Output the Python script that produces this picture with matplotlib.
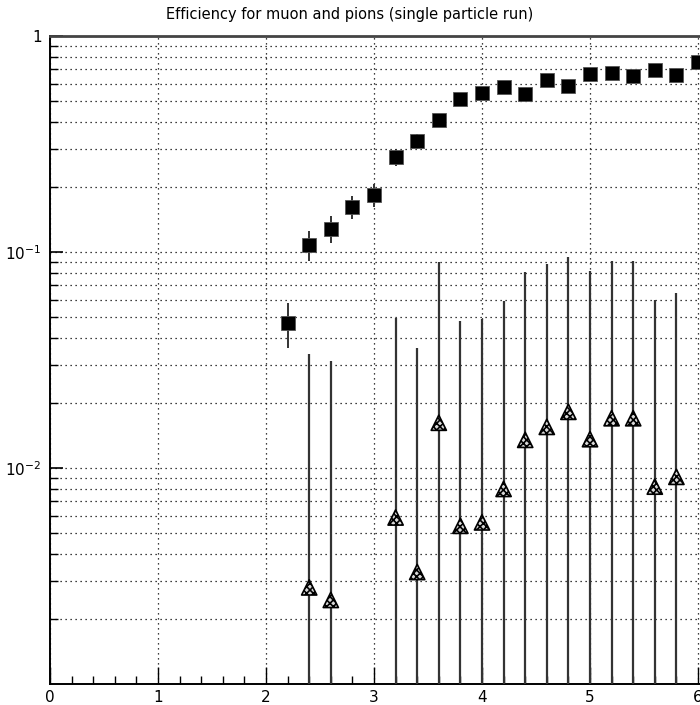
import numpy as np
import matplotlib
matplotlib.use('Agg')
import matplotlib.pyplot as plt
from matplotlib.ticker import FixedLocator, FixedFormatter, MultipleLocator, NullFormatter

# muon efficiency vs momentum (filled squares)
MU_X   = [2.2, 2.4, 2.6, 2.8, 3.0, 3.2, 3.4, 3.6, 3.8, 4.0,
          4.2, 4.4, 4.6, 4.8, 5.0, 5.2, 5.4, 5.6, 5.8, 6.0]
MU_EFF = [0.047, 0.108, 0.128, 0.162, 0.184, 0.275, 0.326, 0.408, 0.511, 0.545,
          0.580, 0.539, 0.625, 0.587, 0.667, 0.674, 0.653, 0.696, 0.660, 0.758]
MU_ERR = [0.011, 0.017, 0.018, 0.020, 0.022, 0.025, 0.025, 0.028, 0.030, 0.032,
          0.034, 0.034, 0.036, 0.036, 0.038, 0.038, 0.038, 0.040, 0.040, 0.050]

# pion efficiency (hatched triangles); errors are symmetric, lower side runs off the axis
PI_X   = [2.4, 2.6, 3.2, 3.4, 3.6, 3.8, 4.0, 4.2,
          4.4, 4.6, 4.8, 5.0, 5.2, 5.4, 5.6, 5.8]
PI_EFF = [0.0028, 0.00245, 0.0059, 0.0033, 0.0162, 0.0054, 0.0056, 0.0080,
          0.0135, 0.0155, 0.0182, 0.0136, 0.0170, 0.0170, 0.0082, 0.0091]
PI_ERR = [0.0309, 0.0289, 0.0436, 0.0327, 0.0738, 0.0426, 0.0434, 0.0510,
          0.0675, 0.0725, 0.0768, 0.0684, 0.0740, 0.0740, 0.0518, 0.0555]

Y_TICKS  = [1e-2, 1e-1, 1.0]
Y_LABELS = [r"$10^{-2}$", r"$10^{-1}$", "1"]

plt.rcParams['hatch.linewidth'] = 1.2

fig = plt.figure(figsize=(7.0, 7.05), dpi=100)
ax = fig.add_axes([50/700, 21/705, 6.1*108/700, 648/705])
ax.set_yscale('log', nonpositive='clip')
ax.set_xlim(0, 6.1)
ax.set_ylim(1e-3, 1.0)

ax.errorbar(MU_X, MU_EFF, yerr=MU_ERR, fmt='s', color='black',
            ecolor='#333333', elinewidth=1.4, capsize=0,
            markersize=10, markeredgecolor='#555555', markeredgewidth=0.6,
            zorder=3)

ax.errorbar(PI_X, PI_EFF, yerr=PI_ERR, fmt='none', ecolor='#333333',
            elinewidth=1.6, capsize=0, zorder=3)
ax.scatter(PI_X, PI_EFF, marker='^', s=120, facecolor='#d8d8d8',
           edgecolor='black', linewidth=1.2, hatch='xxxxx', zorder=4)

# axis styling
ax.yaxis.set_major_locator(FixedLocator(Y_TICKS))
ax.yaxis.set_major_formatter(FixedFormatter(Y_LABELS))
ax.yaxis.set_minor_locator(FixedLocator(
    [m * 10.0**e for e in (-3, -2, -1) for m in range(2, 10)]))
ax.yaxis.set_minor_formatter(NullFormatter())
ax.xaxis.set_major_locator(MultipleLocator(1))
ax.xaxis.set_minor_locator(MultipleLocator(0.2))

ax.tick_params(axis='both', which='both', direction='in', color='black',
               labelsize=11)
ax.tick_params(axis='y', which='major', length=9, width=1.2, pad=6)
ax.tick_params(axis='y', which='minor', length=6, width=1.0)
ax.tick_params(axis='x', which='major', length=12, width=1.0, pad=4)
ax.tick_params(axis='x', which='minor', length=6, width=1.0)

ax.grid(True, which='major', axis='x', color='black', linestyle=(0, (1, 3)),
        linewidth=0.9)
ax.grid(True, which='both', axis='y', color='black', linestyle=(0, (1, 3)),
        linewidth=0.9)
ax.set_axisbelow(True)

for side in ('left', 'bottom'):
    ax.spines[side].set_linewidth(1.4)
ax.spines['top'].set_linewidth(2.0)
ax.spines['top'].set_color('#444444')
ax.spines['right'].set_visible(False)

fig.text(350/700, 1 - 15/705, "Efficiency for muon and pions (single particle run)",
         ha='center', va='center', fontsize=10.5)

plt.savefig("out.png", dpi=100)
